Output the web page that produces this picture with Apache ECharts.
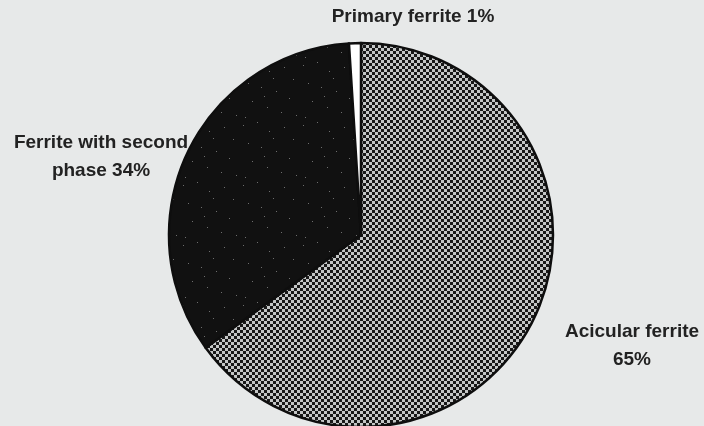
<!DOCTYPE html>
<html>
<head>
<meta charset="utf-8">
<script src="https://cdn.jsdelivr.net/npm/echarts@6/dist/echarts.min.js"></script>
<style>
  html, body { margin: 0; padding: 0; background: #e7e9e9; }
  #chart { width: 704px; height: 426px; }
</style>
</head>
<body>
<div id="chart"></div>
<script>
// Microstructure constituents (percent)
const phases = ['Acicular ferrite', 'Ferrite with second phase', 'Primary ferrite'];
const shares = [65, 34, 1];

// Fine checkerboard fill
function checkerTile() {
  const c = document.createElement('canvas');
  const s = 3;
  c.width = s * 2; c.height = s * 2;
  const g = c.getContext('2d');
  g.fillStyle = '#c4c6c6';
  g.fillRect(0, 0, s * 2, s * 2);
  g.fillStyle = '#181818';
  g.fillRect(0, 0, s, s);
  g.fillRect(s, s, s, s);
  return c;
}

// Near-black fill with sparse grey specks
function speckleTile() {
  const c = document.createElement('canvas');
  c.width = 60; c.height = 60;
  const g = c.getContext('2d');
  g.fillStyle = '#111111';
  g.fillRect(0, 0, 60, 60);
  g.fillStyle = '#6e6e6e';
  const specks = [[3,5],[17,2],[29,11],[44,7],[53,19],[8,23],[21,27],[36,31],[49,38],
                  [12,41],[27,47],[41,52],[56,55],[5,57],[33,18],[24,36]];
  specks.forEach(function (p) { g.fillRect(p[0], p[1], 1, 1); });
  return c;
}

const fills = [
  { image: checkerTile(), repeat: 'repeat' },
  { image: speckleTile(), repeat: 'repeat' },
  '#ffffff'
];

// Label anchor points (centre of each text block)
const labelSpots = [
  { x: 632, y: 346 },
  { x: 101, y: 157 },
  { x: 413, y: 17 }
];

const chart = echarts.init(document.getElementById('chart'), null, { renderer: 'canvas' });
chart.setOption({
  backgroundColor: '#e7e9e9',
  animation: false,
  series: [{
    type: 'pie',
    center: [361, 235],
    radius: 192,
    startAngle: 90,
    clockwise: true,
    avoidLabelOverlap: false,
    data: phases.map(function (name, i) {
      return { name: name, value: shares[i], itemStyle: { color: fills[i] } };
    }),
    itemStyle: { borderColor: '#0e0e0e', borderWidth: 2.5 },
    label: {
      show: true,
      position: 'outside',
      color: '#222222',
      fontFamily: 'Liberation Sans, Arial, sans-serif',
      fontWeight: 'bold',
      fontSize: 19,
      lineHeight: 28,
      align: 'center',
      formatter: function (p) {
        if (p.dataIndex === 0) return 'Acicular ferrite\n' + p.value + '%';
        if (p.dataIndex === 1) return 'Ferrite with second\nphase ' + p.value + '%';
        return p.name + ' ' + p.value + '%';
      }
    },
    labelLine: { show: false },
    emphasis: { disabled: true },
    labelLayout: function (params) {
      const s = labelSpots[params.dataIndex];
      return { x: s.x, y: s.y, align: 'center', verticalAlign: 'middle' };
    }
  }]
});
</script>
</body>
</html>
